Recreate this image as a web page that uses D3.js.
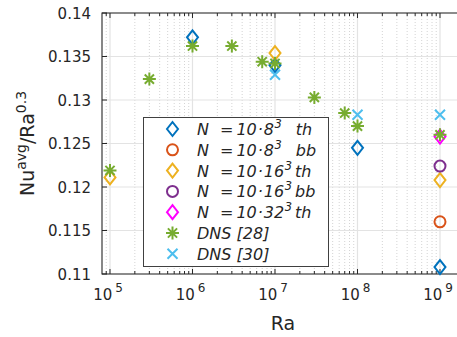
<!DOCTYPE html>
<html><head><meta charset="utf-8">
<script src="https://cdn.jsdelivr.net/npm/d3@7"></script>
<style>body{margin:0;background:#fff}svg{display:block;font-family:"DejaVu Sans",sans-serif}</style>
</head><body><svg id="c" width="457" height="337"></svg>
<script>
const xDomain = [8e4, 2e9];
const yDomain = [0.11, 0.14];
const xTickValues = [1e5, 1e6, 1e7, 1e8, 1e9];
const xTickExps = ["5", "6", "7", "8", "9"];
const yTickValues = [0.11, 0.115, 0.12, 0.125, 0.13, 0.135, 0.14];
const yTickLabels = ["0.11", "0.115", "0.12", "0.125", "0.13", "0.135", "0.14"];

const seriesNames = ["N = 10·8³ th", "N = 10·8³ bb", "N = 10·16³ th", "N = 10·16³ bb", "N = 10·32³ th", "DNS [28]", "DNS [30]"];
const seriesColors = ["#0072BD", "#D95319", "#EDB120", "#7E2F8E", "#FF00FF", "#77AC30", "#4DBEEE"];
const seriesMarkers = ["diamond", "circle", "diamond", "circle", "diamond", "asterisk", "cross"];
const legendBase = ["8", "8", "16", "16", "32"];
const legendSuffix = ["th", "bb", "th", "bb", "th"];

const ra_8_th = [1e6, 1e7, 1e8, 1e9];
const nu_8_th = [0.1372, 0.1340, 0.1245, 0.1108];
const ra_8_bb = [1e9];
const nu_8_bb = [0.1160];
const ra_16_th = [1e5, 1e7, 1e9];
const nu_16_th = [0.1211, 0.1354, 0.1208];
const ra_16_bb = [1e9];
const nu_16_bb = [0.1224];
const ra_32_th = [1e9];
const nu_32_th = [0.1258];
const ra_dns28 = [1e5, 3e5, 1e6, 3e6, 7e6, 1e7, 3e7, 7e7, 1e8, 1e9];
const nu_dns28 = [0.1219, 0.1324, 0.1362, 0.1362, 0.1344, 0.1342, 0.1303, 0.1285, 0.1270, 0.1260];
const ra_dns30 = [1e7, 1e8, 1e9];
const nu_dns30 = [0.1329, 0.1283, 0.1283];

const allRa = [ra_8_th, ra_8_bb, ra_16_th, ra_16_bb, ra_32_th, ra_dns28, ra_dns30];
const allNu = [nu_8_th, nu_8_bb, nu_16_th, nu_16_bb, nu_32_th, nu_dns28, nu_dns30];

const svg = d3.select("#c");
const L = 102, T = 13, B = 274;
const R = L + 82.5 * Math.log10(xDomain[1] / xDomain[0]);
const x = d3.scaleLog().domain(xDomain).range([L, R]);
const y = d3.scaleLinear().domain(yDomain).range([B, T]);
const axisCol = "#262626";

const minorX = [];
for (let e = 4; e <= 9; e++) for (let k = 2; k <= 9; k++) { const v = k * Math.pow(10, e); if (v > xDomain[0] && v < xDomain[1]) minorX.push(v); }

const g = svg.append("g");
g.selectAll(".mg").data(minorX).enter().append("line")
  .attr("x1", d => x(d)).attr("x2", d => x(d)).attr("y1", T).attr("y2", B)
  .attr("stroke", "#d4d4d4").attr("stroke-width", 1).attr("stroke-dasharray", "1,2");
g.selectAll(".gx").data(xTickValues).enter().append("line")
  .attr("x1", d => x(d)).attr("x2", d => x(d)).attr("y1", T).attr("y2", B)
  .attr("stroke", "#e3e3e3").attr("stroke-width", 1.2);
g.selectAll(".gy").data(yTickValues).enter().append("line")
  .attr("x1", L).attr("x2", R).attr("y1", d => y(d)).attr("y2", d => y(d))
  .attr("stroke", "#e3e3e3").attr("stroke-width", 1.2);

const tk = svg.append("g").attr("stroke", axisCol).attr("stroke-width", 1);
[B, T].forEach(yy => {
  const dir = yy === B ? -1 : 1;
  tk.selectAll(null).data(minorX).enter().append("line")
    .attr("x1", d => x(d)).attr("x2", d => x(d)).attr("y1", yy).attr("y2", yy + dir * 3);
  tk.selectAll(null).data(xTickValues).enter().append("line")
    .attr("x1", d => x(d)).attr("x2", d => x(d)).attr("y1", yy).attr("y2", yy + dir * 5);
});
tk.selectAll(null).data(yTickValues).enter().append("line")
  .attr("x1", L).attr("x2", L + 5).attr("y1", d => y(d)).attr("y2", d => y(d));

svg.append("path").attr("d", `M${R},${T}H${L}V${B}H${R}`).attr("fill", "none").attr("stroke", axisCol).attr("stroke-width", 1.1);

svg.selectAll(".yl").data(yTickValues).enter().append("text")
  .attr("x", L - 11).attr("y", d => y(d) + 5.5).attr("text-anchor", "end")
  .attr("font-size", 15).attr("fill", axisCol).text((d, i) => yTickLabels[i]);
const xl = svg.selectAll(".xl").data(xTickValues).enter().append("text")
  .attr("x", d => x(d) - 2).attr("y", 300).attr("text-anchor", "middle")
  .attr("font-size", 15).attr("fill", axisCol);
xl.append("tspan").text("10");
xl.append("tspan").attr("dx", 3).attr("dy", -8).attr("font-size", 12).text((d, i) => xTickExps[i]);

svg.append("text").attr("x", 283).attr("y", 330).attr("text-anchor", "middle")
  .attr("font-size", 19).attr("fill", axisCol).text("Ra");
const yt = svg.append("text").attr("transform", `translate(34,${(T + B) / 2}) rotate(-90)`)
  .attr("text-anchor", "middle").attr("font-size", 19).attr("fill", axisCol);
yt.append("tspan").text("Nu");
yt.append("tspan").attr("dy", -8).attr("font-size", 14).text("avg");
yt.append("tspan").attr("dy", 8).text("/Ra");
yt.append("tspan").attr("dy", -8).attr("font-size", 14).text("0.3");

function drawMarker(sel, type, color) {
  sel.attr("fill", "none").attr("stroke", color).attr("stroke-width", 2);
  if (type === "diamond") sel.append("path").attr("d", "M0,-7L5.5,0L0,7L-5.5,0Z");
  else if (type === "circle") sel.append("circle").attr("r", 5.5);
  else if (type === "asterisk") sel.append("path").attr("d", "M-6.5,0H6.5M0,-6.5V6.5M-4.6,-4.6L4.6,4.6M-4.6,4.6L4.6,-4.6");
  else if (type === "cross") sel.append("path").attr("d", "M-5,-5L5,5M-5,5L5,-5");
}
const plot = svg.append("g");
allRa.forEach((raArr, s) => {
  raArr.forEach((r, i) => {
    const m = plot.append("g").attr("transform", `translate(${x(r)},${y(allNu[s][i])})`);
    drawMarker(m, seriesMarkers[s], seriesColors[s]);
  });
});

// legend
const lg = svg.append("g");
lg.append("rect").attr("x", 143.5).attr("y", 117.5).attr("width", 185).attr("height", 149)
  .attr("fill", "#fff").attr("stroke", "#404040").attr("stroke-width", 1);
seriesNames.forEach((name, i) => {
  const yy = 129 + i * 20.8;
  const m = lg.append("g").attr("transform", `translate(172.5,${yy})`);
  drawMarker(m, seriesMarkers[i], seriesColors[i]);
  const t = lg.append("text").attr("x", 197).attr("y", yy + 6).attr("font-size", 16)
    .attr("font-style", "italic").attr("fill", axisCol);
  if (i < 5) {
    const one = legendBase[i].length === 1;
    t.append("tspan").text("N");
    t.append("tspan").attr("dx", 11).text("=");
    t.append("tspan").attr("dx", 3).text("10");
    t.append("tspan").attr("dx", 1).text("·");
    t.append("tspan").attr("dx", 1).text(legendBase[i]);
    t.append("tspan").attr("dx", 0.5).attr("dy", -7).attr("font-size", 11.5).text("3");
    t.append("tspan").attr("dx", one ? 14 : 3).attr("dy", 7).text(legendSuffix[i]);
  } else {
    t.text(name);
  }
});
</script></body></html>
